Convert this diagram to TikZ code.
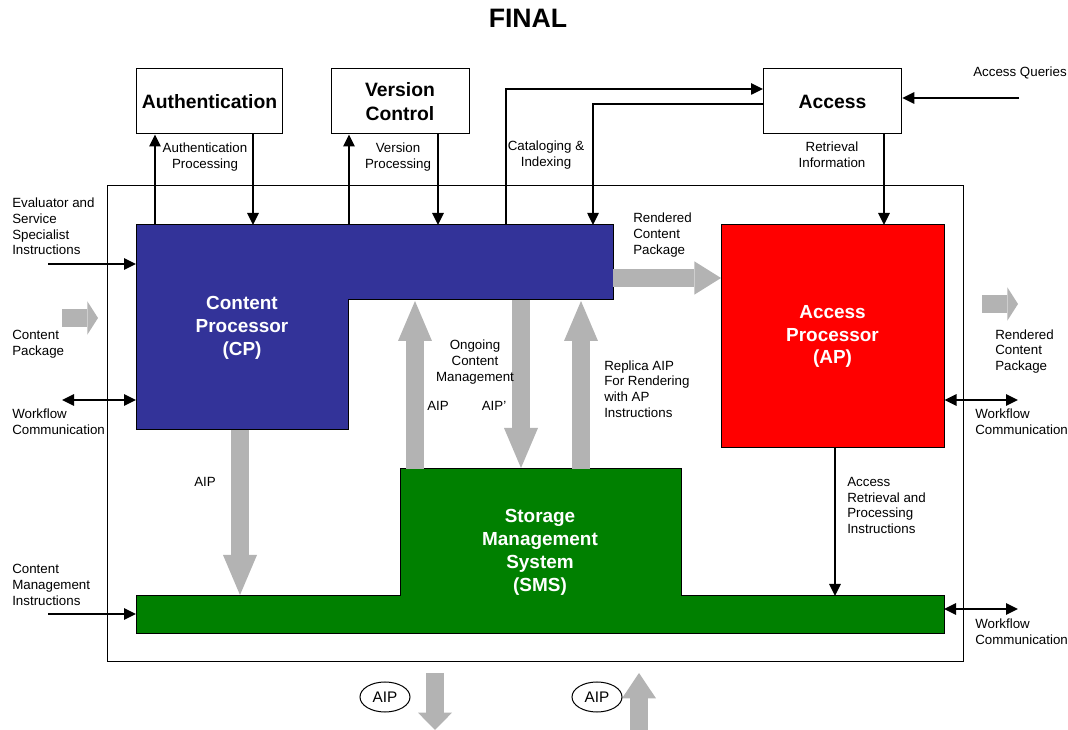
\documentclass[tikz,border=0pt]{standalone}
\usepackage{fontspec}
\setmainfont{Liberation Sans}
\usetikzlibrary{arrows.meta,shapes.geometric}
\definecolor{cpblue}{HTML}{333399}
\definecolor{smsgreen}{HTML}{008000}
\definecolor{flowgray}{HTML}{B3B3B3}

\begin{document}
\begin{tikzpicture}[x=0.75pt, y=-0.75pt,
  unitbox/.style={draw, line width=0.75pt, fill=white, align=center, inner sep=0pt,
    font=\fontsize{14.5}{17.5}\selectfont\bfseries, minimum height=48.75pt},
  procname/.style={font=\fontsize{14.2}{17.2}\selectfont\bfseries, text=white, align=center},
  lbl/.style={font=\fontsize{10}{11.8}\selectfont, align=center, inner sep=0pt},
  lblleft/.style={lbl, align=left, anchor=west},
  flow/.style={line width=1.5pt, -{Triangle[length=9pt,width=8.5pt]}},
  flowboth/.style={line width=1.5pt, {Triangle[length=9pt,width=8.5pt]}-{Triangle[length=9pt,width=8.5pt]}},
  bigflow/.style={draw=flowgray, line width=13pt, -{Triangle[length=30pt,width=25.5pt,line width=0pt]}},
  smallflow/.style={draw=flowgray, line width=13pt, -{Triangle[length=8pt,width=25pt,line width=0pt]}}]

\useasboundingbox (0,0) rectangle (1068,730);

\node[font=\fontsize{20}{24}\selectfont\bfseries] (title) at (528,18) {FINAL};

% archive boundary
\draw[line width=0.75pt] (107,186) rectangle (963,662);

% external units
\node[unitbox, minimum width=110pt] (auth) at (209.5,101.5) {Authentication};
\node[unitbox, minimum width=103.5pt] (version) at (400,101.5) {Version\\Control};
\node[unitbox, minimum width=104pt] (access) at (832.5,101.5) {Access};

% content processor
\filldraw[fill=cpblue, draw=black, line width=0.75pt]
  (136,225) -- (613,225) -- (613,300) -- (348,300) -- (348,430) -- (136,430) -- cycle;
\node[procname] (cp) at (242,328) {Content\\Processor\\(CP)};

% access processor
\node[draw, line width=0.75pt, fill=red, minimum width=167.25pt, minimum height=167.25pt,
  procname] (ap) at (832.5,336.5) {Access\\Processor\\(AP)};

% storage management system
\filldraw[fill=smsgreen, draw=black, line width=0.75pt]
  (136,596) -- (400,596) -- (400,469) -- (681,469) -- (681,596) -- (944,596)
  -- (944,634) -- (136,634) -- cycle;
\node[procname] (sms) at (540,552) {Storage\\Management\\System\\(SMS)};

% connector ends
\coordinate (cpauthout) at (155,225);
\coordinate (cpauthin) at (253,225);
\coordinate (cpverout) at (349,225);
\coordinate (cpverin) at (438,225);
\coordinate (cpcat) at (506,225);
\coordinate (catin) at (763,89);
\coordinate (retout) at (763,104);
\coordinate (cpidx) at (593,225);
\coordinate (queries) at (1019,98);
\coordinate (apret) at (884,225);
\coordinate (smsacc) at (835,596);
\coordinate (evalsrc) at (48,264);
\coordinate (evalin) at (136,264);
\coordinate (wfleft) at (62,400);
\coordinate (wfcp) at (136,400);
\coordinate (cmsrc) at (48,614);
\coordinate (cmin) at (136,614);
\coordinate (wfright) at (1018,400);
\coordinate (wfsms) at (944,609);
\coordinate (wfsmsright) at (1018,609);

% black connectors
\draw[flow] (cpauthout) -- (cpauthout |- auth.south);
\draw[flow] (auth.south -| cpauthin) -- (cpauthin);
\draw[flow] (cpverout) -- (cpverout |- version.south);
\draw[flow] (version.south -| cpverin) -- (cpverin);
\draw[line width=1.1pt, -{Triangle[length=9pt,width=8.5pt]}] (cpcat) |- (catin);
\draw[line width=1.1pt, -{Triangle[length=9pt,width=8.5pt]}] (retout) -| (cpidx);
\draw[flow] (queries) -- (queries -| access.east);
\draw[flow] (access.south -| apret) -- (apret);
\draw[flow] (ap.south -| smsacc) -- (smsacc);
\draw[flow] (evalsrc) -- (evalin);
\draw[flowboth] (wfleft) -- (wfcp);
\draw[flow] (cmsrc) -- (cmin);
\draw[flowboth] (ap.east |- wfright) -- (wfright);
\draw[flowboth] (wfsms) -- (wfsmsright);

% package flows
\draw[smallflow] (62,318) -- (98,318);
\draw[smallflow] (982,304) -- (1018,304);
\draw[draw=flowgray, line width=13pt, -{Triangle[length=20pt,width=25pt,line width=0pt]}] (613,278) -- (721,278);
\draw[bigflow] (240,430) -- (240,595);
\draw[bigflow] (415,469) -- (415,301);
\draw[bigflow] (521,300) -- (521,468);
\draw[bigflow] (581,469) -- (581,301);
\draw[draw=flowgray, line width=13pt, -{Triangle[length=13pt,width=25.5pt,line width=0pt]}] (435,673) -- (435,730);
\draw[draw=flowgray, line width=13pt, -{Triangle[length=19pt,width=25.5pt,line width=0pt]}] (639,730) -- (639,673);

% labels
\node[lbl] (authproc) at (205,157) {Authentication\\Processing};
\node[lbl] (verproc) at (398,157) {Version\\Processing};
\node[lbl] (catidx) at (546,155) {Cataloging \&\\Indexing};
\node[lbl] (retinfo) at (832,155) {Retrieval\\Information};
\node[lbl] (accq) at (1020,73) {Access Queries};
\node[lblleft] (rcp) at (633,235) {Rendered\\Content\\Package};
\node[lbl] (ongoing) at (475,362) {Ongoing\\Content\\Management};
\node[lbl] (aipup) at (438,406) {AIP};
\node[lbl] (aipdown) at (494,406) {AIP'};
\node[lblleft] (replica) at (604,389) {Replica AIP\\For Rendering\\with AP\\Instructions};
\node[lbl] (aipstore) at (205,482) {AIP};
\node[lblleft] (accret) at (847,505.5) {Access\\Retrieval and\\Processing\\Instructions};
\node[lblleft] (evalinstr) at (12,226.5) {Evaluator and\\Service\\Specialist\\Instructions};
\node[lblleft] (cpkg) at (12,344) {Content\\Package};
\node[lblleft] (wfcomm) at (12,422) {Workflow\\Communication};
\node[lblleft] (cminstr) at (12,585) {Content\\Management\\Instructions};
\node[lblleft] (rcpout) at (995,351.5) {Rendered\\Content\\Package};
\node[lblleft] (wfap) at (975,422) {Workflow\\Communication};
\node[lblleft] (wfsmsl) at (975,632) {Workflow\\Communication};
\node[draw, ellipse, line width=0.75pt, minimum width=37.5pt, minimum height=22.5pt,
  inner sep=0pt, font=\fontsize{11.5}{13}\selectfont] (aipexport) at (385,697) {AIP};
\node[draw, ellipse, line width=0.75pt, minimum width=37.5pt, minimum height=22.5pt,
  inner sep=0pt, font=\fontsize{11.5}{13}\selectfont] (aipimport) at (597,697) {AIP};
\end{tikzpicture}
\end{document}
